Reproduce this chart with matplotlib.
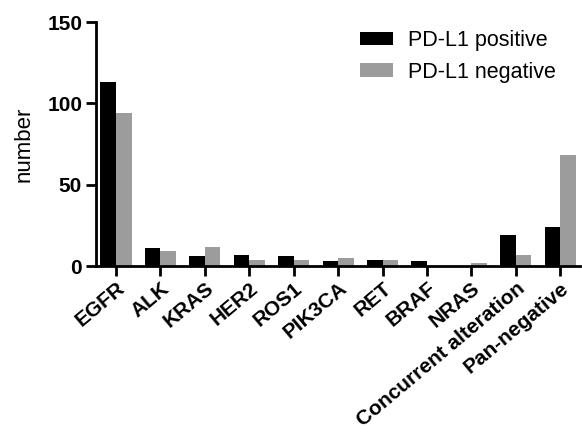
import matplotlib
matplotlib.use("Agg")
import matplotlib.pyplot as plt
import numpy as np

categories = ["EGFR", "ALK", "KRAS", "HER2", "ROS1", "PIK3CA", "RET", "BRAF",
              "NRAS", "Concurrent alteration", "Pan-negative"]
pdl1_positive = [113, 11, 6, 7, 6, 3, 4, 3, 0, 19, 24]
pdl1_negative = [94, 9, 12, 4, 4, 5, 4, 0, 2, 7, 68]

plt.rcParams["font.family"] = ["Liberation Sans", "DejaVu Sans"]

fig = plt.figure(figsize=(5.82, 4.32), dpi=100)
ax = fig.add_axes([0.165, 0.384, 0.832, 0.565])

x = np.arange(len(categories))
w = 0.35
ax.bar(x - w / 2, pdl1_positive, w, color="black", label="PD-L1 positive")
ax.bar(x + w / 2, pdl1_negative, w, color="#9c9c9c", label="PD-L1 negative")

ax.set_ylim(0, 150)
ax.set_xlim(-0.45, len(categories) - 0.55)
ax.set_yticks([0, 50, 100, 150])
ax.set_xticks(x)
ax.set_xticklabels(categories, rotation=40, ha="right", rotation_mode="anchor",
                   fontsize=15, fontweight="bold")
for lbl in ax.get_yticklabels():
    lbl.set_fontweight("bold")
    lbl.set_fontsize(15)

ax.spines["top"].set_visible(False)
ax.spines["right"].set_visible(False)
ax.spines["left"].set_linewidth(2)
ax.spines["bottom"].set_linewidth(2)
ax.tick_params(axis="both", width=2, length=7, direction="out")
ax.tick_params(axis="x", pad=2)
ax.tick_params(axis="y", pad=3)

ax.set_ylabel("number", fontsize=16, labelpad=9)

fig.legend(*ax.get_legend_handles_labels(), loc="upper left",
           bbox_to_anchor=(360 / 582, 1 - 30 / 432), frameon=False,
           fontsize=15.5, handlelength=1.55, handleheight=0.6, handletextpad=0.7,
           labelspacing=0.5, borderpad=0, borderaxespad=0)

fig.savefig("out.png", dpi=100, facecolor="white")
